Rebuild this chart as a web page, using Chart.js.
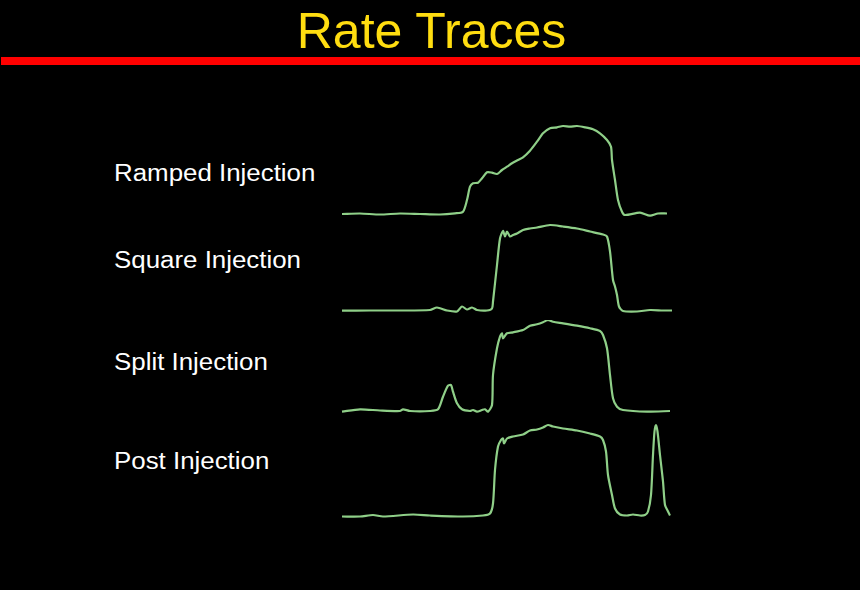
<!DOCTYPE html>
<html>
<head>
<meta charset="utf-8">
<script src="https://cdn.jsdelivr.net/npm/chart.js@4.4.1/dist/chart.umd.min.js"></script>
<style>
  html, body { margin: 0; padding: 0; background: #000; }
  #page { position: relative; width: 860px; height: 590px; background: #000; overflow: hidden; font-family: "Liberation Sans", Arial, sans-serif; }
  #title { position: absolute; left: 0; top: 6px; width: 863px; text-align: center; color: #FFDD10; font-size: 50px; line-height: 50px; }
  #rule { position: absolute; left: 1px; top: 57px; width: 859px; height: 8px; background: #FF0000; }
  .lbl { position: absolute; left: 114px; color: #FFFFFF; font-size: 23px; line-height: 23px; white-space: nowrap; transform: scaleX(1.125); transform-origin: 0 0; }
  .trace { position: absolute; left: 340px; }
</style>
</head>
<body>
<div id="page">
  <div id="title">Rate Traces</div>
  <div id="rule"></div>
  <div class="lbl" style="top:162px">Ramped Injection</div>
  <div class="lbl" style="top:249px">Square Injection</div>
  <div class="lbl" style="top:351px">Split Injection</div>
  <div class="lbl" style="top:450px">Post Injection</div>
  <canvas id="c1" class="trace" width="340" height="100" style="top:120px"></canvas>
  <canvas id="c2" class="trace" width="340" height="100" style="top:220px"></canvas>
  <canvas id="c3" class="trace" width="340" height="100" style="top:320px"></canvas>
  <canvas id="c4" class="trace" width="340" height="100" style="top:420px"></canvas>
</div>
<script>
// Trace labels
const traceNames = ["Ramped Injection", "Square Injection", "Split Injection", "Post Injection"];

// Ramped injection: time (arb. units) and injection rate (arb. units)
const rampedTime = [2, 20, 40, 60, 80, 100, 115, 123, 127, 130, 133, 138, 142, 147, 152, 157, 162, 167, 172, 178, 183, 190, 197, 203, 210, 217, 223, 230, 237, 245, 253, 260, 267, 271, 272, 275, 278, 282, 285, 300, 310, 318, 327];
const rampedRate = [0, 0.5, -0.5, 0.5, 0, -0.5, 0.7, 2.3, 14, 27.3, 30.7, 31.3, 35.7, 41.7, 41.3, 40, 44, 47.3, 50.7, 54, 56.7, 63.3, 72.3, 80.7, 85.7, 86.7, 88, 87.3, 88, 86.7, 84.7, 80.7, 74, 67.3, 54, 34, 14, 2.3, -1, 1.3, -1.7, 0.5, 0.5];

// Square injection
const squareTime = [2, 30, 60, 90, 97, 107, 117, 122, 127, 132, 137, 147, 152, 153, 157, 160, 163, 165, 167, 170, 173, 177, 183, 190, 197, 210, 223, 237, 250, 263, 267, 270, 273, 275, 277, 279, 283, 297, 310, 323, 332];
const squareRate = [-0.2, 0, 0, 0.5, 3, 0, -1, 4, 1, 3, 0.5, 0, 2, 9, 45.5, 72, 79.5, 74, 79, 74, 75.5, 77, 80.5, 82, 83, 85.5, 84, 82, 79, 76, 74, 59, 30.5, 24, 15.5, 4, -0.5, -1, 0.5, 0, 0];

// Split injection
const splitTime = [2, 20, 40, 60, 63, 70, 90, 98, 103, 108, 111, 113, 117, 122, 130, 133, 137, 142, 145, 148, 152, 153, 157, 160, 162, 163, 167, 173, 183, 190, 197, 203, 208, 213, 223, 237, 250, 260, 263, 267, 270, 273, 277, 283, 307, 330];
const splitRate = [-0.7, 1.7, 0.5, 0, 1.7, 0, 0, 1.7, 14.3, 25.3, 26, 19.3, 7.7, 1.7, 0, 1, -0.7, 1, 1.7, -0.7, 6, 36, 62.7, 74.3, 77.7, 72.7, 77.7, 78.7, 81, 85.3, 86.7, 88.7, 91, 89.3, 87.7, 85.3, 82.7, 80, 76, 62.7, 36, 12.7, 4.3, 1, -0.7, 0];

// Post injection
const postTime = [2, 20, 33, 43, 73, 90, 123, 143, 150, 153, 155, 158, 161, 163, 164, 167, 173, 183, 190, 197, 203, 208, 213, 223, 237, 250, 260, 263, 266, 268, 272, 275, 280, 287, 293, 300, 305, 308, 311, 313, 314.5, 316, 317.5, 320, 323, 325, 328, 330];
const postRate = [0, 0, 1.5, 0, 2, 1, 0, 1, 3, 13, 46.5, 70, 76.5, 78, 73, 78, 80, 82, 86, 87, 89, 91.5, 90, 88, 86, 83, 80, 76.5, 65, 41.5, 21.5, 8, 2, 1, 2, 1, 1.5, 5, 21.5, 61.5, 85, 91.5, 85, 61.5, 35, 11.5, 5, 1];

const traceColor = "#8fcf88";

function makeTrace(id, name, times, rates, yMin, yMax) {
  const pts = times.map((t, i) => ({ x: t, y: rates[i] }));
  return new Chart(document.getElementById(id), {
    type: "line",
    data: { datasets: [{ label: name, data: pts, borderColor: traceColor, borderWidth: 2.2, pointRadius: 0, tension: 0.25, fill: false, clip: false }] },
    options: {
      responsive: false,
      maintainAspectRatio: false,
      animation: false,
      events: [],
      layout: { padding: 0 },
      plugins: { legend: { display: false }, tooltip: { enabled: false }, title: { display: false } },
      scales: {
        x: { type: "linear", min: 0, max: 340, display: false },
        y: { type: "linear", min: yMin, max: yMax, display: false }
      }
    }
  });
}

makeTrace("c1", traceNames[0], rampedTime, rampedRate, -6, 94);
makeTrace("c2", traceNames[1], squareTime, squareRate, -9.5, 90.5);
makeTrace("c3", traceNames[2], splitTime, splitRate, -9, 91);
makeTrace("c4", traceNames[3], postTime, postRate, -3.5, 96.5);
</script>
</body>
</html>
